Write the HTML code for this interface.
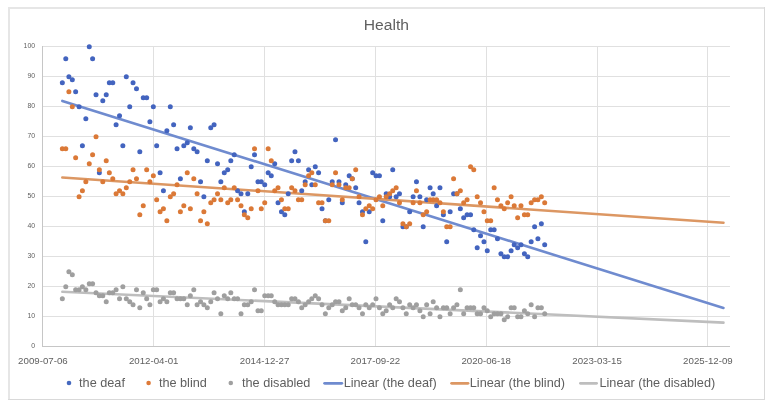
<!DOCTYPE html>
<html><head><meta charset="utf-8"><style>
html,body{margin:0;padding:0;background:#fff;width:771px;height:411px;overflow:hidden;}
svg{display:block;will-change:transform;}
text{font-family:"Liberation Sans",sans-serif;}
</style></head><body>
<svg width="771" height="411" viewBox="0 0 771 411">
<rect x="0" y="0" width="771" height="411" fill="#fff"/>
<rect x="8" y="7" width="757" height="2" fill="#e6e6e6"/><rect x="8" y="7" width="2" height="393" fill="#e6e6e6"/><rect x="764" y="7" width="1" height="393" fill="#d9d9d9"/><rect x="8" y="399" width="757" height="1" fill="#d9d9d9"/>
<path d="M42 46.5H730 M42 76.5H730 M42 106.5H730 M42 136.5H730 M42 166.5H730 M42 196.5H730 M42 226.5H730 M42 256.5H730 M42 286.5H730 M42 316.5H730 M153.5 46V346 M264.5 46V346 M375.5 46V346 M486.5 46V346 M597.5 46V346 M707.5 46V346" stroke="#e0e0e0" stroke-width="1" fill="none"/>
<path d="M42.5 46V347M42 346.5H730" stroke="#c6c6c6" stroke-width="1" fill="none"/>
<line x1="62.34" y1="100.91" x2="723.46" y2="307.96" stroke="#6f8bcf" stroke-width="2.6" stroke-linecap="round"/>
<line x1="62.34" y1="177.44" x2="723.46" y2="222.68" stroke="#dc9763" stroke-width="2.6" stroke-linecap="round"/>
<line x1="62.34" y1="291.70" x2="723.46" y2="322.58" stroke="#bebebe" stroke-width="2.6" stroke-linecap="round"/>
<g fill="#4364bf"><circle cx="62.34" cy="82.75" r="2.5"/><circle cx="65.78" cy="58.75" r="2.5"/><circle cx="68.88" cy="76.75" r="2.5"/><circle cx="72.31" cy="79.75" r="2.5"/><circle cx="75.64" cy="91.75" r="2.5"/><circle cx="79.08" cy="106.75" r="2.5"/><circle cx="82.40" cy="145.75" r="2.5"/><circle cx="85.84" cy="118.75" r="2.5"/><circle cx="89.27" cy="46.75" r="2.5"/><circle cx="92.60" cy="58.75" r="2.5"/><circle cx="96.03" cy="94.75" r="2.5"/><circle cx="99.36" cy="172.75" r="2.5"/><circle cx="102.79" cy="100.75" r="2.5"/><circle cx="106.23" cy="94.75" r="2.5"/><circle cx="109.33" cy="82.75" r="2.5"/><circle cx="112.77" cy="82.75" r="2.5"/><circle cx="116.09" cy="124.75" r="2.5"/><circle cx="119.53" cy="115.75" r="2.5"/><circle cx="122.85" cy="145.75" r="2.5"/><circle cx="126.29" cy="76.75" r="2.5"/><circle cx="129.73" cy="106.75" r="2.5"/><circle cx="133.05" cy="82.75" r="2.5"/><circle cx="136.49" cy="88.75" r="2.5"/><circle cx="139.81" cy="151.75" r="2.5"/><circle cx="143.25" cy="97.75" r="2.5"/><circle cx="146.68" cy="97.75" r="2.5"/><circle cx="149.90" cy="121.75" r="2.5"/><circle cx="153.33" cy="106.75" r="2.5"/><circle cx="156.66" cy="145.75" r="2.5"/><circle cx="160.09" cy="172.75" r="2.5"/><circle cx="163.42" cy="190.75" r="2.5"/><circle cx="166.86" cy="130.75" r="2.5"/><circle cx="170.29" cy="106.75" r="2.5"/><circle cx="173.62" cy="124.75" r="2.5"/><circle cx="177.05" cy="148.75" r="2.5"/><circle cx="180.38" cy="178.75" r="2.5"/><circle cx="183.81" cy="145.75" r="2.5"/><circle cx="187.25" cy="142.75" r="2.5"/><circle cx="190.35" cy="127.75" r="2.5"/><circle cx="193.79" cy="148.75" r="2.5"/><circle cx="197.11" cy="151.75" r="2.5"/><circle cx="200.55" cy="181.75" r="2.5"/><circle cx="203.87" cy="196.75" r="2.5"/><circle cx="207.31" cy="160.75" r="2.5"/><circle cx="210.75" cy="127.75" r="2.5"/><circle cx="214.07" cy="124.75" r="2.5"/><circle cx="217.51" cy="163.75" r="2.5"/><circle cx="220.83" cy="181.75" r="2.5"/><circle cx="224.27" cy="172.75" r="2.5"/><circle cx="227.70" cy="169.75" r="2.5"/><circle cx="230.81" cy="160.75" r="2.5"/><circle cx="234.24" cy="154.75" r="2.5"/><circle cx="237.57" cy="190.75" r="2.5"/><circle cx="241.00" cy="193.75" r="2.5"/><circle cx="244.33" cy="211.75" r="2.5"/><circle cx="247.76" cy="193.75" r="2.5"/><circle cx="251.20" cy="166.75" r="2.5"/><circle cx="254.52" cy="154.75" r="2.5"/><circle cx="257.96" cy="181.75" r="2.5"/><circle cx="261.28" cy="181.75" r="2.5"/><circle cx="264.72" cy="184.75" r="2.5"/><circle cx="268.16" cy="172.75" r="2.5"/><circle cx="271.26" cy="175.75" r="2.5"/><circle cx="274.70" cy="163.75" r="2.5"/><circle cx="278.02" cy="202.75" r="2.5"/><circle cx="281.46" cy="211.75" r="2.5"/><circle cx="284.78" cy="214.75" r="2.5"/><circle cx="288.22" cy="193.75" r="2.5"/><circle cx="291.65" cy="160.75" r="2.5"/><circle cx="294.98" cy="151.75" r="2.5"/><circle cx="298.41" cy="160.75" r="2.5"/><circle cx="301.74" cy="190.75" r="2.5"/><circle cx="305.18" cy="181.75" r="2.5"/><circle cx="308.61" cy="169.75" r="2.5"/><circle cx="311.82" cy="184.75" r="2.5"/><circle cx="315.26" cy="166.75" r="2.5"/><circle cx="318.59" cy="172.75" r="2.5"/><circle cx="322.02" cy="208.75" r="2.5"/><circle cx="325.35" cy="220.75" r="2.5"/><circle cx="328.78" cy="199.75" r="2.5"/><circle cx="332.22" cy="181.75" r="2.5"/><circle cx="335.54" cy="139.75" r="2.5"/><circle cx="338.98" cy="181.75" r="2.5"/><circle cx="342.30" cy="202.75" r="2.5"/><circle cx="345.74" cy="184.75" r="2.5"/><circle cx="349.18" cy="175.75" r="2.5"/><circle cx="352.28" cy="178.75" r="2.5"/><circle cx="355.71" cy="187.75" r="2.5"/><circle cx="359.04" cy="202.75" r="2.5"/><circle cx="362.48" cy="211.75" r="2.5"/><circle cx="365.80" cy="241.75" r="2.5"/><circle cx="369.24" cy="211.75" r="2.5"/><circle cx="372.67" cy="172.75" r="2.5"/><circle cx="376.00" cy="175.75" r="2.5"/><circle cx="379.43" cy="175.75" r="2.5"/><circle cx="382.76" cy="220.75" r="2.5"/><circle cx="386.19" cy="193.75" r="2.5"/><circle cx="389.63" cy="196.75" r="2.5"/><circle cx="392.73" cy="169.75" r="2.5"/><circle cx="396.17" cy="196.75" r="2.5"/><circle cx="399.49" cy="193.75" r="2.5"/><circle cx="402.93" cy="226.75" r="2.5"/><circle cx="406.25" cy="226.75" r="2.5"/><circle cx="409.69" cy="211.75" r="2.5"/><circle cx="413.13" cy="196.75" r="2.5"/><circle cx="416.45" cy="181.75" r="2.5"/><circle cx="419.89" cy="196.75" r="2.5"/><circle cx="423.21" cy="226.75" r="2.5"/><circle cx="426.65" cy="199.75" r="2.5"/><circle cx="430.08" cy="187.75" r="2.5"/><circle cx="433.19" cy="193.75" r="2.5"/><circle cx="436.62" cy="205.75" r="2.5"/><circle cx="439.95" cy="187.75" r="2.5"/><circle cx="443.38" cy="214.75" r="2.5"/><circle cx="446.71" cy="241.75" r="2.5"/><circle cx="450.14" cy="211.75" r="2.5"/><circle cx="453.58" cy="193.75" r="2.5"/><circle cx="456.91" cy="193.75" r="2.5"/><circle cx="460.34" cy="208.75" r="2.5"/><circle cx="463.67" cy="217.75" r="2.5"/><circle cx="467.10" cy="214.75" r="2.5"/><circle cx="470.54" cy="214.75" r="2.5"/><circle cx="473.75" cy="229.75" r="2.5"/><circle cx="477.19" cy="247.75" r="2.5"/><circle cx="480.51" cy="235.75" r="2.5"/><circle cx="483.95" cy="241.75" r="2.5"/><circle cx="487.27" cy="250.75" r="2.5"/><circle cx="490.71" cy="229.75" r="2.5"/><circle cx="494.15" cy="229.75" r="2.5"/><circle cx="497.47" cy="238.75" r="2.5"/><circle cx="500.91" cy="253.75" r="2.5"/><circle cx="504.23" cy="256.75" r="2.5"/><circle cx="507.67" cy="256.75" r="2.5"/><circle cx="511.10" cy="250.75" r="2.5"/><circle cx="514.21" cy="244.75" r="2.5"/><circle cx="517.64" cy="247.75" r="2.5"/><circle cx="520.97" cy="244.75" r="2.5"/><circle cx="524.40" cy="253.75" r="2.5"/><circle cx="527.73" cy="256.75" r="2.5"/><circle cx="531.16" cy="241.75" r="2.5"/><circle cx="534.60" cy="226.75" r="2.5"/><circle cx="537.92" cy="238.75" r="2.5"/><circle cx="541.36" cy="223.75" r="2.5"/><circle cx="544.69" cy="244.75" r="2.5"/></g>
<g fill="#db7937"><circle cx="62.34" cy="148.75" r="2.5"/><circle cx="65.78" cy="148.75" r="2.5"/><circle cx="68.88" cy="91.75" r="2.5"/><circle cx="72.31" cy="106.75" r="2.5"/><circle cx="75.64" cy="157.75" r="2.5"/><circle cx="79.08" cy="196.75" r="2.5"/><circle cx="82.40" cy="190.75" r="2.5"/><circle cx="85.84" cy="181.75" r="2.5"/><circle cx="89.27" cy="163.75" r="2.5"/><circle cx="92.60" cy="154.75" r="2.5"/><circle cx="96.03" cy="136.75" r="2.5"/><circle cx="99.36" cy="169.75" r="2.5"/><circle cx="102.79" cy="181.75" r="2.5"/><circle cx="106.23" cy="160.75" r="2.5"/><circle cx="109.33" cy="172.75" r="2.5"/><circle cx="112.77" cy="178.75" r="2.5"/><circle cx="116.09" cy="193.75" r="2.5"/><circle cx="119.53" cy="190.75" r="2.5"/><circle cx="122.85" cy="193.75" r="2.5"/><circle cx="126.29" cy="187.75" r="2.5"/><circle cx="129.73" cy="181.75" r="2.5"/><circle cx="133.05" cy="169.75" r="2.5"/><circle cx="136.49" cy="178.75" r="2.5"/><circle cx="139.81" cy="214.75" r="2.5"/><circle cx="143.25" cy="205.75" r="2.5"/><circle cx="146.68" cy="169.75" r="2.5"/><circle cx="149.90" cy="181.75" r="2.5"/><circle cx="153.33" cy="175.75" r="2.5"/><circle cx="156.66" cy="199.75" r="2.5"/><circle cx="160.09" cy="211.75" r="2.5"/><circle cx="163.42" cy="208.75" r="2.5"/><circle cx="166.86" cy="220.75" r="2.5"/><circle cx="170.29" cy="196.75" r="2.5"/><circle cx="173.62" cy="193.75" r="2.5"/><circle cx="177.05" cy="184.75" r="2.5"/><circle cx="180.38" cy="211.75" r="2.5"/><circle cx="183.81" cy="205.75" r="2.5"/><circle cx="187.25" cy="172.75" r="2.5"/><circle cx="190.35" cy="208.75" r="2.5"/><circle cx="193.79" cy="178.75" r="2.5"/><circle cx="197.11" cy="193.75" r="2.5"/><circle cx="200.55" cy="220.75" r="2.5"/><circle cx="203.87" cy="211.75" r="2.5"/><circle cx="207.31" cy="223.75" r="2.5"/><circle cx="210.75" cy="202.75" r="2.5"/><circle cx="214.07" cy="199.75" r="2.5"/><circle cx="217.51" cy="193.75" r="2.5"/><circle cx="220.83" cy="199.75" r="2.5"/><circle cx="224.27" cy="187.75" r="2.5"/><circle cx="227.70" cy="202.75" r="2.5"/><circle cx="230.81" cy="199.75" r="2.5"/><circle cx="234.24" cy="187.75" r="2.5"/><circle cx="237.57" cy="199.75" r="2.5"/><circle cx="241.00" cy="205.75" r="2.5"/><circle cx="244.33" cy="214.75" r="2.5"/><circle cx="247.76" cy="217.75" r="2.5"/><circle cx="251.20" cy="208.75" r="2.5"/><circle cx="254.52" cy="148.75" r="2.5"/><circle cx="257.96" cy="190.75" r="2.5"/><circle cx="261.28" cy="208.75" r="2.5"/><circle cx="264.72" cy="202.75" r="2.5"/><circle cx="268.16" cy="148.75" r="2.5"/><circle cx="271.26" cy="160.75" r="2.5"/><circle cx="274.70" cy="190.75" r="2.5"/><circle cx="278.02" cy="187.75" r="2.5"/><circle cx="281.46" cy="199.75" r="2.5"/><circle cx="284.78" cy="208.75" r="2.5"/><circle cx="288.22" cy="208.75" r="2.5"/><circle cx="291.65" cy="187.75" r="2.5"/><circle cx="294.98" cy="190.75" r="2.5"/><circle cx="298.41" cy="199.75" r="2.5"/><circle cx="301.74" cy="199.75" r="2.5"/><circle cx="305.18" cy="184.75" r="2.5"/><circle cx="308.61" cy="175.75" r="2.5"/><circle cx="311.82" cy="172.75" r="2.5"/><circle cx="315.26" cy="184.75" r="2.5"/><circle cx="318.59" cy="202.75" r="2.5"/><circle cx="322.02" cy="202.75" r="2.5"/><circle cx="325.35" cy="220.75" r="2.5"/><circle cx="328.78" cy="220.75" r="2.5"/><circle cx="332.22" cy="184.75" r="2.5"/><circle cx="335.54" cy="172.75" r="2.5"/><circle cx="338.98" cy="184.75" r="2.5"/><circle cx="342.30" cy="199.75" r="2.5"/><circle cx="345.74" cy="187.75" r="2.5"/><circle cx="349.18" cy="187.75" r="2.5"/><circle cx="352.28" cy="178.75" r="2.5"/><circle cx="355.71" cy="169.75" r="2.5"/><circle cx="359.04" cy="196.75" r="2.5"/><circle cx="362.48" cy="214.75" r="2.5"/><circle cx="365.80" cy="208.75" r="2.5"/><circle cx="369.24" cy="205.75" r="2.5"/><circle cx="372.67" cy="208.75" r="2.5"/><circle cx="376.00" cy="199.75" r="2.5"/><circle cx="379.43" cy="196.75" r="2.5"/><circle cx="382.76" cy="205.75" r="2.5"/><circle cx="386.19" cy="196.75" r="2.5"/><circle cx="389.63" cy="193.75" r="2.5"/><circle cx="392.73" cy="190.75" r="2.5"/><circle cx="396.17" cy="187.75" r="2.5"/><circle cx="399.49" cy="202.75" r="2.5"/><circle cx="402.93" cy="223.75" r="2.5"/><circle cx="406.25" cy="226.75" r="2.5"/><circle cx="409.69" cy="223.75" r="2.5"/><circle cx="413.13" cy="202.75" r="2.5"/><circle cx="416.45" cy="190.75" r="2.5"/><circle cx="419.89" cy="202.75" r="2.5"/><circle cx="423.21" cy="214.75" r="2.5"/><circle cx="426.65" cy="211.75" r="2.5"/><circle cx="430.08" cy="199.75" r="2.5"/><circle cx="433.19" cy="199.75" r="2.5"/><circle cx="436.62" cy="199.75" r="2.5"/><circle cx="439.95" cy="202.75" r="2.5"/><circle cx="443.38" cy="211.75" r="2.5"/><circle cx="446.71" cy="226.75" r="2.5"/><circle cx="450.14" cy="226.75" r="2.5"/><circle cx="453.58" cy="178.75" r="2.5"/><circle cx="456.91" cy="193.75" r="2.5"/><circle cx="460.34" cy="190.75" r="2.5"/><circle cx="463.67" cy="202.75" r="2.5"/><circle cx="467.10" cy="199.75" r="2.5"/><circle cx="470.54" cy="166.75" r="2.5"/><circle cx="473.75" cy="169.75" r="2.5"/><circle cx="477.19" cy="196.75" r="2.5"/><circle cx="480.51" cy="202.75" r="2.5"/><circle cx="483.95" cy="211.75" r="2.5"/><circle cx="487.27" cy="220.75" r="2.5"/><circle cx="490.71" cy="220.75" r="2.5"/><circle cx="494.15" cy="187.75" r="2.5"/><circle cx="497.47" cy="199.75" r="2.5"/><circle cx="500.91" cy="205.75" r="2.5"/><circle cx="504.23" cy="208.75" r="2.5"/><circle cx="507.67" cy="202.75" r="2.5"/><circle cx="511.10" cy="196.75" r="2.5"/><circle cx="514.21" cy="205.75" r="2.5"/><circle cx="517.64" cy="217.75" r="2.5"/><circle cx="520.97" cy="205.75" r="2.5"/><circle cx="524.40" cy="214.75" r="2.5"/><circle cx="527.73" cy="214.75" r="2.5"/><circle cx="531.16" cy="202.75" r="2.5"/><circle cx="534.60" cy="199.75" r="2.5"/><circle cx="537.92" cy="199.75" r="2.5"/><circle cx="541.36" cy="196.75" r="2.5"/><circle cx="544.69" cy="202.75" r="2.5"/></g>
<g fill="#9f9f9f"><circle cx="62.34" cy="298.75" r="2.5"/><circle cx="65.78" cy="286.75" r="2.5"/><circle cx="68.88" cy="271.75" r="2.5"/><circle cx="72.31" cy="274.75" r="2.5"/><circle cx="75.64" cy="289.75" r="2.5"/><circle cx="79.08" cy="289.75" r="2.5"/><circle cx="82.40" cy="286.75" r="2.5"/><circle cx="85.84" cy="289.75" r="2.5"/><circle cx="89.27" cy="283.75" r="2.5"/><circle cx="92.60" cy="283.75" r="2.5"/><circle cx="96.03" cy="292.75" r="2.5"/><circle cx="99.36" cy="295.75" r="2.5"/><circle cx="102.79" cy="295.75" r="2.5"/><circle cx="106.23" cy="301.75" r="2.5"/><circle cx="109.33" cy="292.75" r="2.5"/><circle cx="112.77" cy="292.75" r="2.5"/><circle cx="116.09" cy="289.75" r="2.5"/><circle cx="119.53" cy="298.75" r="2.5"/><circle cx="122.85" cy="286.75" r="2.5"/><circle cx="126.29" cy="298.75" r="2.5"/><circle cx="129.73" cy="301.75" r="2.5"/><circle cx="133.05" cy="304.75" r="2.5"/><circle cx="136.49" cy="289.75" r="2.5"/><circle cx="139.81" cy="307.75" r="2.5"/><circle cx="143.25" cy="292.75" r="2.5"/><circle cx="146.68" cy="298.75" r="2.5"/><circle cx="149.90" cy="304.75" r="2.5"/><circle cx="153.33" cy="289.75" r="2.5"/><circle cx="156.66" cy="289.75" r="2.5"/><circle cx="160.09" cy="301.75" r="2.5"/><circle cx="163.42" cy="298.75" r="2.5"/><circle cx="166.86" cy="301.75" r="2.5"/><circle cx="170.29" cy="292.75" r="2.5"/><circle cx="173.62" cy="292.75" r="2.5"/><circle cx="177.05" cy="298.75" r="2.5"/><circle cx="180.38" cy="298.75" r="2.5"/><circle cx="183.81" cy="298.75" r="2.5"/><circle cx="187.25" cy="304.75" r="2.5"/><circle cx="190.35" cy="295.75" r="2.5"/><circle cx="193.79" cy="289.75" r="2.5"/><circle cx="197.11" cy="304.75" r="2.5"/><circle cx="200.55" cy="301.75" r="2.5"/><circle cx="203.87" cy="304.75" r="2.5"/><circle cx="207.31" cy="307.75" r="2.5"/><circle cx="210.75" cy="301.75" r="2.5"/><circle cx="214.07" cy="292.75" r="2.5"/><circle cx="217.51" cy="298.75" r="2.5"/><circle cx="220.83" cy="313.75" r="2.5"/><circle cx="224.27" cy="295.75" r="2.5"/><circle cx="227.70" cy="298.75" r="2.5"/><circle cx="230.81" cy="292.75" r="2.5"/><circle cx="234.24" cy="298.75" r="2.5"/><circle cx="237.57" cy="298.75" r="2.5"/><circle cx="241.00" cy="313.75" r="2.5"/><circle cx="244.33" cy="304.75" r="2.5"/><circle cx="247.76" cy="304.75" r="2.5"/><circle cx="251.20" cy="301.75" r="2.5"/><circle cx="254.52" cy="289.75" r="2.5"/><circle cx="257.96" cy="310.75" r="2.5"/><circle cx="261.28" cy="310.75" r="2.5"/><circle cx="264.72" cy="295.75" r="2.5"/><circle cx="268.16" cy="295.75" r="2.5"/><circle cx="271.26" cy="295.75" r="2.5"/><circle cx="274.70" cy="301.75" r="2.5"/><circle cx="278.02" cy="304.75" r="2.5"/><circle cx="281.46" cy="304.75" r="2.5"/><circle cx="284.78" cy="304.75" r="2.5"/><circle cx="288.22" cy="304.75" r="2.5"/><circle cx="291.65" cy="298.75" r="2.5"/><circle cx="294.98" cy="298.75" r="2.5"/><circle cx="298.41" cy="301.75" r="2.5"/><circle cx="301.74" cy="307.75" r="2.5"/><circle cx="305.18" cy="304.75" r="2.5"/><circle cx="308.61" cy="301.75" r="2.5"/><circle cx="311.82" cy="298.75" r="2.5"/><circle cx="315.26" cy="295.75" r="2.5"/><circle cx="318.59" cy="298.75" r="2.5"/><circle cx="322.02" cy="304.75" r="2.5"/><circle cx="325.35" cy="313.75" r="2.5"/><circle cx="328.78" cy="307.75" r="2.5"/><circle cx="332.22" cy="304.75" r="2.5"/><circle cx="335.54" cy="301.75" r="2.5"/><circle cx="338.98" cy="301.75" r="2.5"/><circle cx="342.30" cy="310.75" r="2.5"/><circle cx="345.74" cy="307.75" r="2.5"/><circle cx="349.18" cy="298.75" r="2.5"/><circle cx="352.28" cy="304.75" r="2.5"/><circle cx="355.71" cy="304.75" r="2.5"/><circle cx="359.04" cy="307.75" r="2.5"/><circle cx="362.48" cy="313.75" r="2.5"/><circle cx="365.80" cy="304.75" r="2.5"/><circle cx="369.24" cy="307.75" r="2.5"/><circle cx="372.67" cy="304.75" r="2.5"/><circle cx="376.00" cy="298.75" r="2.5"/><circle cx="379.43" cy="307.75" r="2.5"/><circle cx="382.76" cy="313.75" r="2.5"/><circle cx="386.19" cy="310.75" r="2.5"/><circle cx="389.63" cy="304.75" r="2.5"/><circle cx="392.73" cy="307.75" r="2.5"/><circle cx="396.17" cy="298.75" r="2.5"/><circle cx="399.49" cy="301.75" r="2.5"/><circle cx="402.93" cy="307.75" r="2.5"/><circle cx="406.25" cy="313.75" r="2.5"/><circle cx="409.69" cy="304.75" r="2.5"/><circle cx="413.13" cy="307.75" r="2.5"/><circle cx="416.45" cy="304.75" r="2.5"/><circle cx="419.89" cy="310.75" r="2.5"/><circle cx="423.21" cy="316.75" r="2.5"/><circle cx="426.65" cy="304.75" r="2.5"/><circle cx="430.08" cy="313.75" r="2.5"/><circle cx="433.19" cy="301.75" r="2.5"/><circle cx="436.62" cy="307.75" r="2.5"/><circle cx="439.95" cy="316.75" r="2.5"/><circle cx="443.38" cy="307.75" r="2.5"/><circle cx="446.71" cy="307.75" r="2.5"/><circle cx="450.14" cy="313.75" r="2.5"/><circle cx="453.58" cy="307.75" r="2.5"/><circle cx="456.91" cy="304.75" r="2.5"/><circle cx="460.34" cy="289.75" r="2.5"/><circle cx="463.67" cy="313.75" r="2.5"/><circle cx="467.10" cy="307.75" r="2.5"/><circle cx="470.54" cy="307.75" r="2.5"/><circle cx="473.75" cy="307.75" r="2.5"/><circle cx="477.19" cy="313.75" r="2.5"/><circle cx="480.51" cy="313.75" r="2.5"/><circle cx="483.95" cy="307.75" r="2.5"/><circle cx="487.27" cy="310.75" r="2.5"/><circle cx="490.71" cy="316.75" r="2.5"/><circle cx="494.15" cy="313.75" r="2.5"/><circle cx="497.47" cy="313.75" r="2.5"/><circle cx="500.91" cy="313.75" r="2.5"/><circle cx="504.23" cy="319.75" r="2.5"/><circle cx="507.67" cy="316.75" r="2.5"/><circle cx="511.10" cy="307.75" r="2.5"/><circle cx="514.21" cy="307.75" r="2.5"/><circle cx="517.64" cy="316.75" r="2.5"/><circle cx="520.97" cy="316.75" r="2.5"/><circle cx="524.40" cy="310.75" r="2.5"/><circle cx="527.73" cy="313.75" r="2.5"/><circle cx="531.16" cy="304.75" r="2.5"/><circle cx="534.60" cy="316.75" r="2.5"/><circle cx="537.92" cy="307.75" r="2.5"/><circle cx="541.36" cy="307.75" r="2.5"/><circle cx="544.69" cy="313.75" r="2.5"/></g>
<text transform="translate(386.4,30.1) scale(1.045,1)" font-family="Liberation Sans, sans-serif" font-size="15" fill="#5f5f5f" text-anchor="middle">Health</text>
<text transform="translate(35.0,48.3) scale(0.88,1)" font-family="Liberation Sans, sans-serif" font-size="7.8" fill="#5f5f5f" text-anchor="end">100</text>
<text transform="translate(35.0,78.3) scale(0.88,1)" font-family="Liberation Sans, sans-serif" font-size="7.8" fill="#5f5f5f" text-anchor="end">90</text>
<text transform="translate(35.0,108.3) scale(0.88,1)" font-family="Liberation Sans, sans-serif" font-size="7.8" fill="#5f5f5f" text-anchor="end">80</text>
<text transform="translate(35.0,138.3) scale(0.88,1)" font-family="Liberation Sans, sans-serif" font-size="7.8" fill="#5f5f5f" text-anchor="end">70</text>
<text transform="translate(35.0,168.3) scale(0.88,1)" font-family="Liberation Sans, sans-serif" font-size="7.8" fill="#5f5f5f" text-anchor="end">60</text>
<text transform="translate(35.0,198.3) scale(0.88,1)" font-family="Liberation Sans, sans-serif" font-size="7.8" fill="#5f5f5f" text-anchor="end">50</text>
<text transform="translate(35.0,228.3) scale(0.88,1)" font-family="Liberation Sans, sans-serif" font-size="7.8" fill="#5f5f5f" text-anchor="end">40</text>
<text transform="translate(35.0,258.3) scale(0.88,1)" font-family="Liberation Sans, sans-serif" font-size="7.8" fill="#5f5f5f" text-anchor="end">30</text>
<text transform="translate(35.0,288.3) scale(0.88,1)" font-family="Liberation Sans, sans-serif" font-size="7.8" fill="#5f5f5f" text-anchor="end">20</text>
<text transform="translate(35.0,318.3) scale(0.88,1)" font-family="Liberation Sans, sans-serif" font-size="7.8" fill="#5f5f5f" text-anchor="end">10</text>
<text transform="translate(35.0,348.3) scale(0.88,1)" font-family="Liberation Sans, sans-serif" font-size="7.8" fill="#5f5f5f" text-anchor="end">0</text>
<text transform="translate(42.90,363.5) scale(1.0,1)" font-family="Liberation Sans, sans-serif" font-size="9.7" fill="#5f5f5f" text-anchor="middle">2009-07-06</text>
<text transform="translate(153.73,363.5) scale(1.0,1)" font-family="Liberation Sans, sans-serif" font-size="9.7" fill="#5f5f5f" text-anchor="middle">2012-04-01</text>
<text transform="translate(264.57,363.5) scale(1.0,1)" font-family="Liberation Sans, sans-serif" font-size="9.7" fill="#5f5f5f" text-anchor="middle">2014-12-27</text>
<text transform="translate(375.40,363.5) scale(1.0,1)" font-family="Liberation Sans, sans-serif" font-size="9.7" fill="#5f5f5f" text-anchor="middle">2017-09-22</text>
<text transform="translate(486.23,363.5) scale(1.0,1)" font-family="Liberation Sans, sans-serif" font-size="9.7" fill="#5f5f5f" text-anchor="middle">2020-06-18</text>
<text transform="translate(597.07,363.5) scale(1.0,1)" font-family="Liberation Sans, sans-serif" font-size="9.7" fill="#5f5f5f" text-anchor="middle">2023-03-15</text>
<text transform="translate(707.90,363.5) scale(1.0,1)" font-family="Liberation Sans, sans-serif" font-size="9.7" fill="#5f5f5f" text-anchor="middle">2025-12-09</text>
<circle cx="69" cy="383" r="2.3" fill="#4569bf"/>
<circle cx="148.6" cy="383" r="2.3" fill="#de7a38"/>
<circle cx="230.8" cy="383" r="2.3" fill="#a0a0a0"/>
<line x1="324.6" y1="383.3" x2="341.8" y2="383.3" stroke="#6f8bcf" stroke-width="2.8" stroke-linecap="round"/>
<line x1="451.6" y1="383.3" x2="468" y2="383.3" stroke="#dc9763" stroke-width="2.8" stroke-linecap="round"/>
<line x1="580.4" y1="383.3" x2="596.6" y2="383.3" stroke="#bebebe" stroke-width="2.8" stroke-linecap="round"/>
<text x="79.1" y="386.8" font-family="Liberation Sans, sans-serif" font-size="12.7" fill="#5f5f5f">the deaf</text>
<text x="158.9" y="386.8" font-family="Liberation Sans, sans-serif" font-size="12.7" fill="#5f5f5f">the blind</text>
<text x="242" y="386.8" font-family="Liberation Sans, sans-serif" font-size="12.7" fill="#5f5f5f">the disabled</text>
<text x="343.7" y="386.8" font-family="Liberation Sans, sans-serif" font-size="12.7" fill="#5f5f5f">Linear (the deaf)</text>
<text x="469.8" y="386.8" font-family="Liberation Sans, sans-serif" font-size="12.7" fill="#5f5f5f">Linear (the blind)</text>
<text x="599.5" y="386.8" font-family="Liberation Sans, sans-serif" font-size="12.7" fill="#5f5f5f">Linear (the disabled)</text>
</svg>
</body></html>
